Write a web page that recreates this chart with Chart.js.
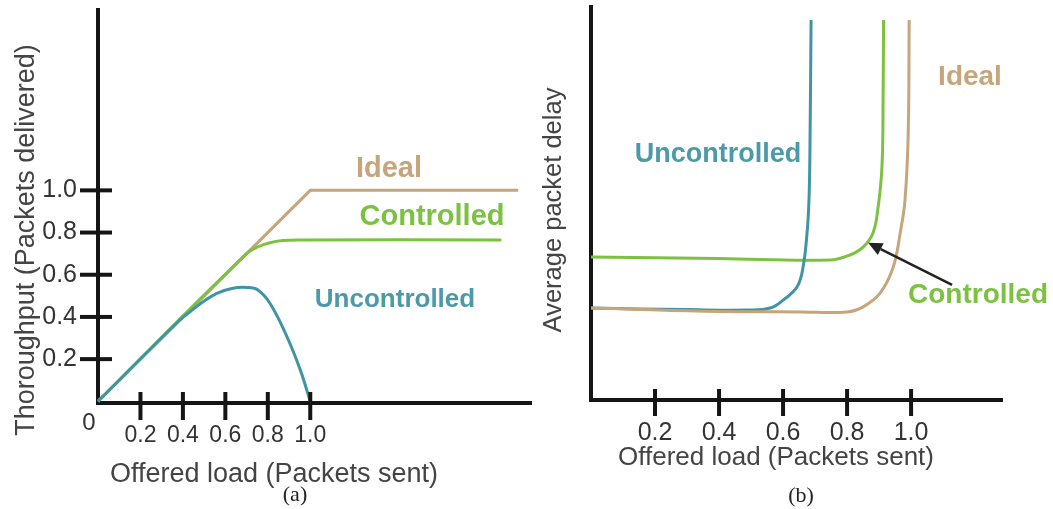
<!DOCTYPE html>
<html>
<head>
<meta charset="utf-8">
<script src="https://cdn.jsdelivr.net/npm/chart.js@4.4.1/dist/chart.umd.min.js"></script>
<style>
  html, body { margin: 0; padding: 0; background: #fff; }
  #wrap { position: relative; width: 1053px; height: 509px; overflow: hidden; }
  #chartA { position: absolute; left: 0; top: 0; }
  #chartB { position: absolute; left: 533px; top: 0; }
</style>
</head>
<body>
<div id="wrap">
  <canvas id="chartA" width="533" height="509"></canvas>
  <canvas id="chartB" width="520" height="509"></canvas>
</div>
<script>
// ---- (a) throughput vs offered load ----
const loadTicksA = [0.2, 0.4, 0.6, 0.8, 1.0];
const thruTicksA = [0.2, 0.4, 0.6, 0.8, 1.0];

const idealLoadA = [0, 1.0, 1.98];
const idealThruA = [0, 1.0, 1.0];

const ctrlLoadA = [0, 0.7, 0.76, 0.81, 0.87, 0.94, 1.9];
const ctrlThruA = [0, 0.7, 0.735, 0.752, 0.762, 0.765, 0.765];

const unctrlLoadA = [0, 0.38, 0.44, 0.5, 0.56, 0.63, 0.7, 0.75, 0.81, 0.89, 0.953, 1.0];
const unctrlThruA = [0, 0.38, 0.43, 0.475, 0.512, 0.535, 0.54, 0.53, 0.465, 0.307, 0.149, 0.0];

// ---- (b) delay vs offered load (delay in arbitrary units) ----
const loadTicksB = [0.2, 0.4, 0.6, 0.8, 1.0];

const idealLoadB = [0, 0.35, 0.653, 0.8, 0.85, 0.903, 0.944, 0.966, 0.981, 0.991, 0.994];
const idealDelayB = [2.34, 2.26, 2.24, 2.24, 2.37, 2.72, 3.38, 4.25, 5.09, 6.79, 9.67];

const ctrlLoadB = [0, 0.4, 0.747, 0.809, 0.85, 0.881, 0.897, 0.909, 0.9125, 0.914];
const ctrlDelayB = [3.64, 3.6, 3.56, 3.69, 3.89, 4.25, 4.91, 5.93, 7.63, 9.67];

const unctrlLoadB = [0, 0.3, 0.49, 0.56, 0.6, 0.644, 0.6625, 0.675, 0.681, 0.684, 0.6875];
const unctrlDelayB = [2.34, 2.3, 2.29, 2.34, 2.54, 2.88, 3.38, 4.25, 5.09, 6.36, 9.67];

// arrow pointing at the controlled curve: [load, delay] tail -> head
const arrowTailB = [1.128, 2.93];
const arrowHeadB = [0.866, 4.0];

const TAN = '#c6a57a';
const GREEN = '#7cc142';
const TEAL = '#3f95a4';
const SANS = '"Liberation Sans", Arial, Helvetica, sans-serif';
const SERIF = '"Liberation Serif", "Times New Roman", serif';

Chart.defaults.font.family = SANS;

function zip(xs, ys) {
  return xs.map((x, i) => ({ x: x, y: ys[i] }));
}

function lineSet(label, xs, ys, color, tension) {
  return {
    label: label,
    data: zip(xs, ys),
    showLine: true,
    borderColor: color,
    borderWidth: 3,
    pointRadius: 0,
    fill: false,
    clip: false,
    tension: tension
  };
}

// no extra room for the first/last label, the layout is fixed by hand
function noPad(s) {
  s.paddingTop = 0;
  s.paddingBottom = 0;
  s.paddingLeft = 0;
  s.paddingRight = 0;
}

// tick marks that cross the axis line
const crossTicks = {
  id: 'crossTicks',
  afterDraw(chart, args, opts) {
    const ctx = chart.ctx;
    const area = chart.chartArea;
    ctx.save();
    ctx.strokeStyle = '#151515';
    ctx.lineWidth = 4;
    (opts.axes || []).forEach(a => {
      const scale = chart.scales[a.id];
      scale.ticks.forEach(t => {
        const p = scale.getPixelForValue(t.value);
        ctx.beginPath();
        if (scale.isHorizontal()) {
          ctx.moveTo(p, area.bottom - a.inside);
          ctx.lineTo(p, area.bottom + a.outside);
        } else {
          ctx.moveTo(area.left - a.outside, p);
          ctx.lineTo(area.left + a.inside, p);
        }
        ctx.stroke();
      });
    });
    ctx.restore();
  }
};

// free text: axis titles, curve names, panel captions
const figureText = {
  id: 'figureText',
  afterDraw(chart, args, opts) {
    const ctx = chart.ctx;
    (opts.items || []).forEach(it => {
      ctx.save();
      ctx.font = it.font;
      ctx.fillStyle = it.color;
      ctx.textAlign = it.align || 'center';
      ctx.textBaseline = 'alphabetic';
      ctx.translate(it.x, it.y);
      if (it.rotate) ctx.rotate(it.rotate);
      ctx.fillText(it.text, 0, 0);
      ctx.restore();
    });
  }
};

const arrow = {
  id: 'arrow',
  afterDatasetsDraw(chart, args, opts) {
    if (!opts.tail) return;
    const xs = chart.scales.x, ys = chart.scales.y;
    const x0 = xs.getPixelForValue(opts.tail[0]), y0 = ys.getPixelForValue(opts.tail[1]);
    const x1 = xs.getPixelForValue(opts.head[0]), y1 = ys.getPixelForValue(opts.head[1]);
    const ang = Math.atan2(y1 - y0, x1 - x0);
    const len = 14, half = 6.5;
    const ctx = chart.ctx;
    ctx.save();
    ctx.strokeStyle = '#222';
    ctx.fillStyle = '#222';
    ctx.lineWidth = 2.5;
    const bx = x1 - Math.cos(ang) * len, by = y1 - Math.sin(ang) * len;
    ctx.beginPath();
    ctx.moveTo(x0, y0);
    ctx.lineTo(bx, by);
    ctx.stroke();
    ctx.beginPath();
    ctx.moveTo(x1, y1);
    ctx.lineTo(bx + Math.sin(ang) * half, by - Math.cos(ang) * half);
    ctx.lineTo(bx - Math.sin(ang) * half, by + Math.cos(ang) * half);
    ctx.closePath();
    ctx.fill();
    ctx.restore();
  }
};

// ---------------- chart (a) ----------------
new Chart(document.getElementById('chartA'), {
  type: 'scatter',
  data: {
    datasets: [
      lineSet('Uncontrolled', unctrlLoadA, unctrlThruA, TEAL, 0.4),
      lineSet('Controlled', ctrlLoadA, ctrlThruA, GREEN, 0.4),
      lineSet('Ideal', idealLoadA, idealThruA, TAN, 0)
    ]
  },
  options: {
    responsive: false,
    animation: false,
    devicePixelRatio: 1,
    layout: { padding: { left: 0, right: 2, top: 10, bottom: 0 } },
    scales: {
      x: {
        type: 'linear',
        min: 0,
        max: 2.04,
        afterFit: s => { s.height = 106; noPad(s); },
        afterBuildTicks: s => { s.ticks = loadTicksA.map(v => ({ value: v })); },
        grid: { display: false, drawTicks: false },
        border: { display: true, color: '#151515', width: 4 },
        ticks: {
          padding: 19,
          color: '#333',
          font: { size: 23 },
          callback: v => v.toFixed(1)
        }
      },
      y: {
        type: 'linear',
        min: -0.008,
        max: 1.855,
        afterFit: s => { s.width = 98; noPad(s); },
        afterBuildTicks: s => { s.ticks = thruTicksA.map(v => ({ value: v })); },
        grid: { display: false, drawTicks: false },
        border: { display: true, color: '#151515', width: 4 },
        ticks: {
          padding: 21,
          color: '#333',
          font: { size: 25 },
          callback: v => v.toFixed(1)
        }
      }
    },
    plugins: {
      legend: { display: false },
      tooltip: { enabled: false },
      crossTicks: {
        axes: [
          { id: 'x', inside: 11, outside: 17 },
          { id: 'y', inside: 14, outside: 18 }
        ]
      },
      figureText: {
        items: [
          { text: '0', x: 89, y: 430, font: '24px ' + SANS, color: '#333' },
          { text: 'Offered load (Packets sent)', x: 274, y: 482, font: '27px ' + SANS, color: '#444' },
          { text: 'Thoroughput (Packets delivered)', x: 34, y: 240, rotate: -Math.PI / 2, font: '27px ' + SANS, color: '#444' },
          { text: '(a)', x: 295, y: 501, font: '22px ' + SERIF, color: '#222' },
          { text: 'Ideal', x: 389, y: 177, font: 'bold 29px ' + SANS, color: TAN },
          { text: 'Controlled', x: 432, y: 225, font: 'bold 29px ' + SANS, color: GREEN },
          { text: 'Uncontrolled', x: 395, y: 307, font: 'bold 26px ' + SANS, color: '#4b9aa8' }
        ]
      }
    }
  },
  plugins: [crossTicks, figureText]
});

// ---------------- chart (b) ----------------
new Chart(document.getElementById('chartB'), {
  type: 'scatter',
  data: {
    datasets: [
      lineSet('Ideal', idealLoadB, idealDelayB, TAN, 0.4),
      lineSet('Uncontrolled', unctrlLoadB, unctrlDelayB, TEAL, 0.4),
      lineSet('Controlled', ctrlLoadB, ctrlDelayB, GREEN, 0.4)
    ]
  },
  options: {
    responsive: false,
    animation: false,
    devicePixelRatio: 1,
    layout: { padding: { left: 0, right: 51, top: 7, bottom: 0 } },
    scales: {
      x: {
        type: 'linear',
        min: 0,
        max: 1.284,
        afterFit: s => { s.height = 109; noPad(s); },
        afterBuildTicks: s => { s.ticks = loadTicksB.map(v => ({ value: v })); },
        grid: { display: false, drawTicks: false },
        border: { display: true, color: '#151515', width: 4 },
        ticks: {
          padding: 18,
          color: '#333',
          font: { size: 25 },
          callback: v => v.toFixed(1)
        }
      },
      y: {
        type: 'linear',
        min: 0,
        max: 10,
        afterFit: s => { s.width = 58; noPad(s); },
        afterBuildTicks: s => { s.ticks = []; },
        grid: { display: false, drawTicks: false },
        border: { display: true, color: '#151515', width: 4 },
        ticks: { display: false }
      }
    },
    plugins: {
      legend: { display: false },
      tooltip: { enabled: false },
      crossTicks: {
        axes: [{ id: 'x', inside: 11, outside: 16 }]
      },
      arrow: { tail: arrowTailB, head: arrowHeadB },
      figureText: {
        items: [
          { text: 'Offered load (Packets sent)', x: 776 - 533, y: 465, font: '26px ' + SANS, color: '#444' },
          { text: 'Average packet delay', x: 561 - 533, y: 210, rotate: -Math.PI / 2, font: '25.5px ' + SANS, color: '#444' },
          { text: '(b)', x: 801 - 533, y: 502, font: '22px ' + SERIF, color: '#222' },
          { text: 'Ideal', x: 970 - 533, y: 85, font: 'bold 28px ' + SANS, color: TAN },
          { text: 'Uncontrolled', x: 718 - 533, y: 162, font: 'bold 27px ' + SANS, color: '#4b9aa8' },
          { text: 'Controlled', x: 978 - 533, y: 303, font: 'bold 28px ' + SANS, color: GREEN }
        ]
      }
    }
  },
  plugins: [crossTicks, figureText, arrow]
});
</script>
</body>
</html>
